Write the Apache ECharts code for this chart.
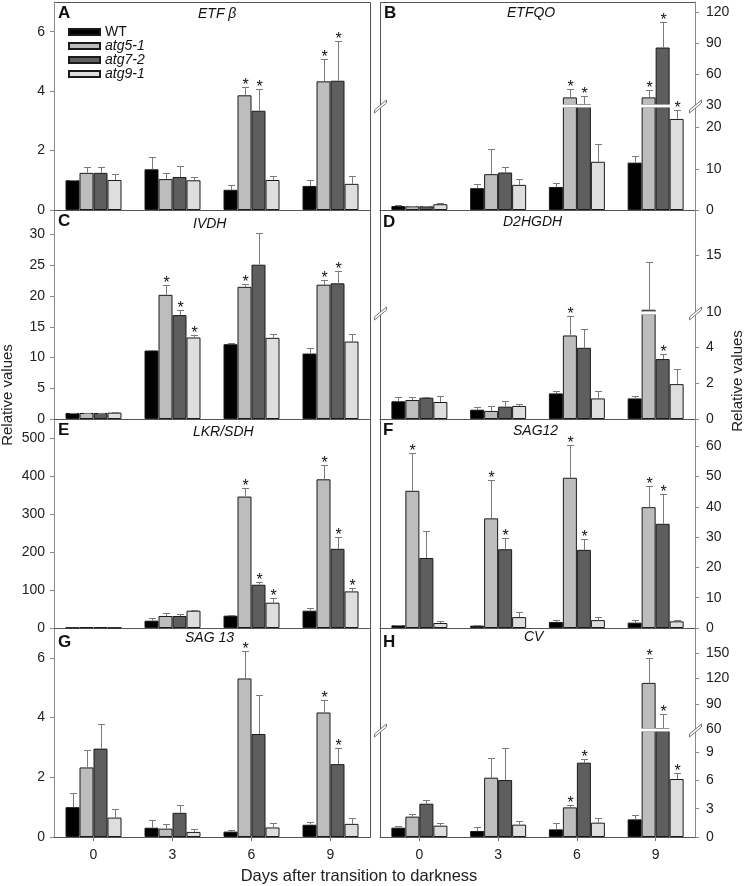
<!DOCTYPE html>
<html><head><meta charset="utf-8">
<script src="https://cdn.jsdelivr.net/npm/echarts@6/dist/echarts.min.js"></script>
<style>html,body{margin:0;padding:0;background:#fff}#c{width:749px;height:886px}</style>
</head><body><div id="c"></div>
<script>
// ---------- data ----------
const days = ['0', '3', '6', '9'];
const genotypes = ['WT', 'atg5-1', 'atg7-2', 'atg9-1'];

// rows: genotype (WT, atg5-1, atg7-2, atg9-1); columns: day 0,3,6,9
// A  ETF beta
const etfbMean = [[1.00, 1.37, 0.68, 0.81], [1.25, 1.04, 3.86, 4.33], [1.25, 1.11, 3.34, 4.35], [1.01, 1.00, 1.01, 0.88]];
const etfbErr  = [[0.02, 0.40, 0.16, 0.19], [0.19, 0.22, 0.28, 0.76], [0.19, 0.38, 0.72, 1.34], [0.21, 0.10, 0.14, 0.26]];
const etfbSig  = [[0, 0, 0, 0], [0, 0, 1, 1], [0, 0, 1, 1], [0, 0, 0, 0]];
// B  ETFQO
const etfqoMean = [[0.97, 5.3, 5.6, 11.5], [0.9, 8.7, 37.4, 37.4], [0.9, 9.1, 31, 85.8], [1.4, 6.1, 11.7, 22.1]];
const etfqoErr  = [[0.13, 1.0, 0.9, 1.5], [0.15, 6.1, 7.8, 6.8], [0.15, 1.4, 8.0, 24.5], [0.3, 1.4, 4.2, 2.1]];
const etfqoSig  = [[0, 0, 0, 0], [0, 0, 1, 1], [0, 0, 1, 1], [0, 0, 0, 1]];
// C  IVDH
const ivdhMean = [[0.98, 11.14, 12.17, 10.65], [0.98, 20.2, 21.5, 21.85], [0.98, 16.9, 25.1, 22.07], [1.03, 13.26, 13.2, 12.6]];
const ivdhErr  = [[0.05, 0.1, 0.25, 0.98], [0.05, 1.65, 0.4, 0.8], [0.05, 0.8, 5.2, 2.06], [0.1, 0.35, 0.55, 1.26]];
const ivdhSig  = [[0, 0, 0, 0], [0, 1, 1, 1], [0, 1, 0, 1], [0, 1, 0, 0]];
// D  D2HGDH
const d2hgdhMean = [[0.99, 0.52, 1.43, 1.15], [1.06, 0.45, 4.67, 10.2], [1.19, 0.69, 3.98, 3.35], [0.95, 0.73, 1.15, 1.95]];
const d2hgdhErr  = [[0.24, 0.13, 0.13, 0.13], [0.15, 0.28, 1.08, 4.2], [0.04, 0.3, 1.06, 0.28], [0.33, 0.11, 0.39, 0.82]];
const d2hgdhSig  = [[0, 0, 0, 0], [0, 0, 1, 0], [0, 0, 0, 1], [0, 0, 0, 0]];
// E  LKR/SDH
const lkrMean = [[1, 19.3, 32.5, 45.6], [2, 31.6, 346.5, 392], [2, 31.6, 114, 208.8], [1, 45.6, 66.7, 96.5]];
const lkrErr  = [[0, 7, 1, 7], [0, 8, 22, 37], [0, 5, 6, 31], [0, 2, 12, 9]];
const lkrSig  = [[0, 0, 0, 0], [0, 0, 1, 1], [0, 0, 1, 1], [0, 0, 1, 1]];
// F  SAG12
const sag12Mean = [[0.88, 0.77, 2.0, 1.76], [45.3, 36.2, 49.6, 39.9], [23.1, 26, 25.8, 34.4], [1.65, 3.6, 2.6, 2.2]];
const sag12Err  = [[0.25, 0.35, 0.6, 0.85], [12.4, 12.5, 10.9, 7.1], [8.8, 3.6, 3.6, 9.8], [0.75, 1.7, 1.1, 0.35]];
const sag12Sig  = [[0, 0, 0, 0], [1, 1, 1, 1], [0, 1, 1, 1], [0, 0, 0, 0]];
// G  SAG 13
const sag13Mean = [[1.0, 0.31, 0.18, 0.41], [2.33, 0.28, 5.31, 4.17], [2.96, 0.81, 3.45, 2.44], [0.65, 0.17, 0.32, 0.44]];
const sag13Err  = [[0.48, 0.26, 0.06, 0.09], [0.58, 0.16, 0.93, 0.43], [0.84, 0.27, 1.32, 0.53], [0.28, 0.09, 0.15, 0.19]];
const sag13Sig  = [[0, 0, 0, 0], [0, 0, 1, 1], [0, 0, 0, 1], [0, 0, 0, 0]];
// H  CV
const cvMean = [[0.99, 0.64, 0.81, 1.87], [2.16, 6.29, 3.14, 114.8], [3.53, 6.04, 7.88, 61], [1.2, 1.31, 1.52, 6.15]];
const cvErr  = [[0.21, 0.38, 0.64, 0.5], [0.31, 2.11, 0.25, 30.1], [0.36, 3.43, 0.42, 17.3], [0.32, 0.35, 0.53, 0.63]];
const cvSig  = [[0, 0, 0, 0], [0, 0, 1, 1], [0, 0, 1, 1], [0, 0, 0, 1]];

// tick labels
const ticksA = [0, 2, 4, 6];
const ticksBlow = [0, 10, 20];
const ticksBup = [30, 60, 90, 120];
const ticksC = [0, 5, 10, 15, 20, 25, 30];
const ticksDlow = [0, 2, 4];
const ticksDup = [10, 15];
const ticksE = [0, 100, 200, 300, 400, 500];
const ticksF = [0, 10, 20, 30, 40, 50, 60];
const ticksG = [0, 2, 4, 6];
const ticksHlow = [0, 3, 6, 9];
const ticksHup = [60, 90, 120, 150];

// ---------- layout / style ----------
const FONT = 'Liberation Sans, Arial, Helvetica, sans-serif';
const COLORS = ['#000000', '#bdbdbd', '#5e5e5e', '#dedede'];
const COLS = [{ left: 54, width: 316, axis: 'left' }, { left: 380, width: 315, axis: 'right' }];
const ROWS = [{ top: 2, bottom: 210 }, { top: 210, bottom: 419 }, { top: 419, bottom: 628 }, { top: 628, bottom: 837 }];
const BAR_W = 14, CAP_W = 7;

const panels = [
  { key: 'A', title: 'ETF β', col: 0, row: 0, mean: etfbMean, err: etfbErr, sig: etfbSig, axis: { min: 0, max: 7, ticks: ticksA },
    letterPos: [58, 5], titlePos: [198, 7] },
  { key: 'B', title: 'ETFQO', col: 1, row: 0, mean: etfqoMean, err: etfqoErr, sig: etfqoSig,
    brk: { y: 106, lower: { max: 25, ticks: ticksBlow }, upper: { min: 30, max: 130, ticks: ticksBup } },
    letterPos: [384, 5], titlePos: [507, 6] },
  { key: 'C', title: 'IVDH', col: 0, row: 1, mean: ivdhMean, err: ivdhErr, sig: ivdhSig, axis: { min: 0, max: 34, ticks: ticksC },
    letterPos: [58, 213], titlePos: [193, 217] },
  { key: 'D', title: 'D2HGDH', col: 1, row: 1, mean: d2hgdhMean, err: d2hgdhErr, sig: d2hgdhSig,
    brk: { y: 313, lower: { max: 5.87, ticks: ticksDlow }, upper: { min: 10, max: 19, ticks: ticksDup } },
    letterPos: [383, 214], titlePos: [503, 215] },
  { key: 'E', title: 'LKR/SDH', col: 0, row: 2, mean: lkrMean, err: lkrErr, sig: lkrSig, axis: { min: 0, max: 551, ticks: ticksE },
    letterPos: [58, 422], titlePos: [193, 425] },
  { key: 'F', title: 'SAG12', col: 1, row: 2, mean: sag12Mean, err: sag12Err, sig: sag12Sig, axis: { min: 0, max: 69, ticks: ticksF },
    letterPos: [383, 422], titlePos: [513, 424] },
  { key: 'G', title: 'SAG 13', col: 0, row: 3, mean: sag13Mean, err: sag13Err, sig: sag13Sig, axis: { min: 0, max: 7, ticks: ticksG },
    letterPos: [58, 634], titlePos: [185, 631] },
  { key: 'H', title: 'CV', col: 1, row: 3, mean: cvMean, err: cvErr, sig: cvSig,
    brk: { y: 730, lower: { max: 11.24, ticks: ticksHlow }, upper: { min: 60, max: 180, ticks: ticksHup } },
    letterPos: [383, 634], titlePos: [524, 630] }
];

function errRender(params, api) {
  const cat = api.value(0), g = api.value(1), m = api.value(2), e = api.value(3), s = api.value(4);
  const base = api.coord([cat, m]);
  const top = api.coord([cat, m + e]);
  const x = Math.round(base[0] + (g - 1.5) * BAR_W) + 0.5;
  const ty = Math.round(top[1]) + 0.5;
  const children = [];
  if (e > 0) {
    children.push({ type: 'line', shape: { x1: x, y1: base[1], x2: x, y2: ty }, style: { stroke: '#7a7a7a', lineWidth: 1 } });
    children.push({ type: 'line', shape: { x1: x - CAP_W / 2, y1: ty, x2: x + CAP_W / 2, y2: ty }, style: { stroke: '#7a7a7a', lineWidth: 1 } });
  }
  if (s) {
    children.push({ type: 'text', style: { text: '*', x: x, y: ty - 2, align: 'center', verticalAlign: 'middle',
      fontSize: 16, fontFamily: FONT, fill: '#111' } });
  }
  return { type: 'group', children: children };
}

const grids = [], xAxes = [], yAxes = [], series = [], titles = [], graphics = [];

panels.forEach(function (p) {
  const col = COLS[p.col], row = ROWS[p.row];
  const bottomRow = p.row === 3;
  let segs;
  if (p.brk) {
    segs = [
      { top: p.brk.y + 1, bottom: row.bottom, min: 0, max: p.brk.lower.max, ticks: p.brk.lower.ticks, lower: true },
      { top: row.top, bottom: p.brk.y - 1, min: p.brk.upper.min, max: p.brk.upper.max, ticks: p.brk.upper.ticks, lower: false }
    ];
  } else {
    segs = [{ top: row.top, bottom: row.bottom, min: p.axis.min, max: p.axis.max, ticks: p.axis.ticks, lower: true }];
  }
  segs.forEach(function (sg) {
    const gi = grids.length;
    grids.push({ left: col.left, top: sg.top, width: col.width, height: sg.bottom - sg.top });
    xAxes.push({
      type: 'category', gridIndex: gi, data: days, boundaryGap: true,
      axisLine: { show: sg.lower, onZero: false, lineStyle: { color: '#555', width: 1 } },
      axisTick: { show: bottomRow && sg.lower, alignWithLabel: true, length: 4, lineStyle: { color: '#777' } },
      axisLabel: { show: bottomRow && sg.lower, margin: 11, fontSize: 14, color: '#222', fontFamily: FONT },
      splitLine: { show: false }
    });
    yAxes.push({
      type: 'value', gridIndex: gi, min: sg.min, max: sg.max, position: col.axis,
      axisLine: { show: true, onZero: false, lineStyle: { color: '#8a8a8a', width: 1 } },
      axisTick: { show: true, inside: false, length: 4, customValues: sg.ticks, lineStyle: { color: '#8a8a8a' } },
      axisLabel: { customValues: sg.ticks, margin: p.col === 0 ? 9 : 11, fontSize: 14, color: '#222', fontFamily: FONT },
      splitLine: { show: false }
    });
    genotypes.forEach(function (name, g) {
      series.push({
        type: 'bar', name: name, xAxisIndex: gi, yAxisIndex: gi, data: p.mean[g],
        barWidth: BAR_W, barGap: '0%', clip: true, animation: false, z: 2,
        itemStyle: { color: COLORS[g], borderColor: '#1a1a1a', borderWidth: 1 }
      });
    });
    const items = [];
    genotypes.forEach(function (name, g) {
      days.forEach(function (d, i) {
        const m = p.mean[g][i];
        const inUpper = p.brk ? m > p.brk.lower.max : false;
        if (inUpper === !sg.lower) items.push([i, g, m, p.err[g][i], p.sig[g][i]]);
      });
    });
    series.push({
      type: 'custom', name: 'err-' + p.key + gi, xAxisIndex: gi, yAxisIndex: gi, data: items,
      encode: { x: 0, y: 2 }, renderItem: errRender, clip: false, z: 6, animation: false, silent: true
    });
  });
  // panel frame
  graphics.push({ type: 'rect', z: -1, silent: true,
    shape: { x: col.left + 0.5, y: row.top + 0.5, width: col.width, height: row.bottom - row.top },
    style: { fill: null, stroke: '#555', lineWidth: 1 } });
  if (p.brk) {
    const by = p.brk.y;
    graphics.push({ type: 'rect', z: 4, silent: true,
      shape: { x: col.left + 1.5, y: by - 1.5, width: col.width - 2.5, height: 3 }, style: { fill: '#fff' } });
    [col.left, col.left + col.width].forEach(function (cx) {
      cx = cx + 0.5;
      graphics.push({ type: 'polygon', z: 101, silent: true,
        shape: { points: [[cx - 6, by + 4], [cx + 6, by - 6], [cx + 6, by - 3], [cx - 6, by + 7]] },
        style: { fill: '#fff', stroke: '#777', lineWidth: 1 } });
    });
  }
  titles.push({ text: p.key, left: p.letterPos[0], top: p.letterPos[1], padding: 0,
    textStyle: { fontSize: 17, fontWeight: 'bold', color: '#111', fontFamily: FONT } });
  titles.push({ text: p.title, left: p.titlePos[0], top: p.titlePos[1], padding: 0,
    textStyle: { fontSize: 14, fontWeight: 'normal', fontStyle: 'italic', color: '#111', fontFamily: FONT } });
});

graphics.push({ type: 'text', z: 10, x: 8, y: 395, rotation: Math.PI / 2,
  style: { text: 'Relative values', fontSize: 15, fontFamily: FONT, fill: '#222', align: 'center', verticalAlign: 'middle' } });
graphics.push({ type: 'text', z: 10, x: 738, y: 381, rotation: Math.PI / 2,
  style: { text: 'Relative values', fontSize: 15, fontFamily: FONT, fill: '#222', align: 'center', verticalAlign: 'middle' } });
graphics.push({ type: 'text', z: 10, x: 359, y: 876,
  style: { text: 'Days after transition to darkness', fontSize: 16.5, fontFamily: FONT, fill: '#222', align: 'center', verticalAlign: 'middle' } });

const chart = echarts.init(document.getElementById('c'), null, { renderer: 'canvas' });
chart.setOption({
  animation: false,
  backgroundColor: '#fff',
  title: titles,
  legend: {
    data: genotypes, left: 68, top: 25, orient: 'vertical', padding: 0,
    itemWidth: 31, itemHeight: 6, itemGap: 0, icon: 'rect', selectedMode: false,
    textStyle: { fontSize: 14, lineHeight: 14, color: '#111', fontFamily: FONT,
      rich: { i: { fontSize: 14, lineHeight: 14, fontStyle: 'italic', color: '#111', fontFamily: FONT } } },
    formatter: function (n) { return n === 'WT' ? n : '{i|' + n + '}'; }
  },
  grid: grids, xAxis: xAxes, yAxis: yAxes, series: series,
  graphic: { elements: graphics }
});
</script></body></html>
